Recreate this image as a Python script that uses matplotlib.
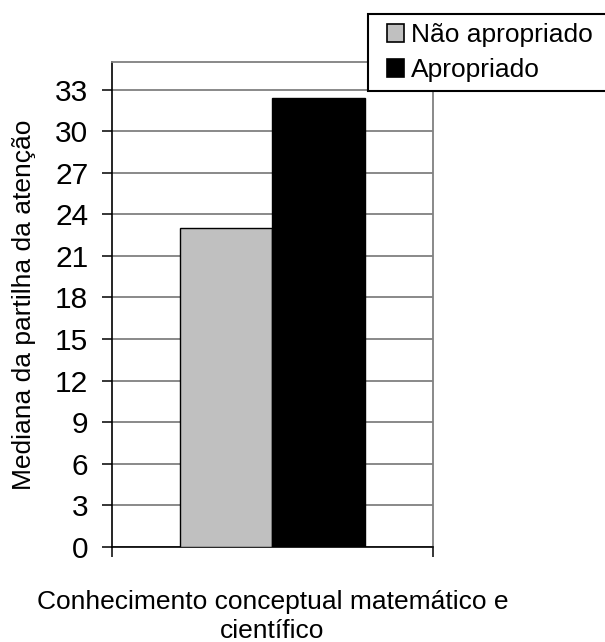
import numpy as np
import matplotlib
matplotlib.use('Agg')
import matplotlib.pyplot as plt
from matplotlib.patches import Patch, Rectangle

plt.rcParams['font.family'] = ['Liberation Sans', 'DejaVu Sans']

# median of attention sharing, by group
groups = ['Não apropriado', 'Apropriado']
values = [23.0, 32.4]
colors = ['#c0c0c0', '#000000']
category = 'Conhecimento conceptual matemático e\ncientífico'
yticks = np.arange(0, 34, 3)

fig = plt.figure(figsize=(6.05, 6.42), dpi=100)
ax = fig.add_axes([0.1856, 0.1484, 0.5296, 0.755])

width = 0.2875
offsets = (np.arange(len(groups)) - (len(groups) - 1) / 2) * width
for off, v, c in zip(offsets, values, colors):
    ax.bar(0 + off, v, width=width, color=c, edgecolor='black', linewidth=1.0, zorder=3)

ax.set_xlim(-0.5, 0.5)
ax.set_ylim(0, 35)
ax.set_yticks(yticks)
ax.set_yticklabels([str(t) for t in yticks], fontsize=21.5)
ax.set_xticks([-0.5, 0.5])
ax.set_xticklabels(['', ''])
ax.tick_params(axis='both', direction='out', length=7.3, width=1.1, color='black')
ax.tick_params(axis='y', pad=10)

ax.yaxis.grid(True, color='#808080', linewidth=1.3, zorder=0)
ax.set_axisbelow(True)

for s in ['top', 'right']:
    ax.spines[s].set_color('#808080')
    ax.spines[s].set_linewidth(1.3)
for s in ['left', 'bottom']:
    ax.spines[s].set_color('black')
    ax.spines[s].set_linewidth(1.2)

ax.text(0.5, -0.09, category, transform=ax.transAxes, ha='center', va='top',
        fontsize=19, linespacing=1.22)
fig.text(0.0393, ax.get_position().y0 + ax.get_position().height / 2,
         'Mediana da partilha da atenção', rotation=90, ha='center', va='center', fontsize=19)

# legend box runs off the right edge of the figure
W, H = 605, 642
fig.patches.append(Rectangle((368 / W, 1 - 91 / H), 250 / W, 77 / H, transform=fig.transFigure,
                             facecolor='white', edgecolor='black', linewidth=1.5, zorder=5))
handles = [Patch(facecolor=c, edgecolor='black', linewidth=1.2) for c in colors]
leg = fig.legend(handles, groups, loc='upper left', bbox_to_anchor=(387 / W, 1 - 23 / H),
                 fontsize=19, frameon=False, borderpad=0,
                 handlelength=0.65, handleheight=0.65, handletextpad=0.27,
                 labelspacing=0.42, borderaxespad=0)
leg.set_zorder(6)

fig.savefig('out.png', dpi=100)
